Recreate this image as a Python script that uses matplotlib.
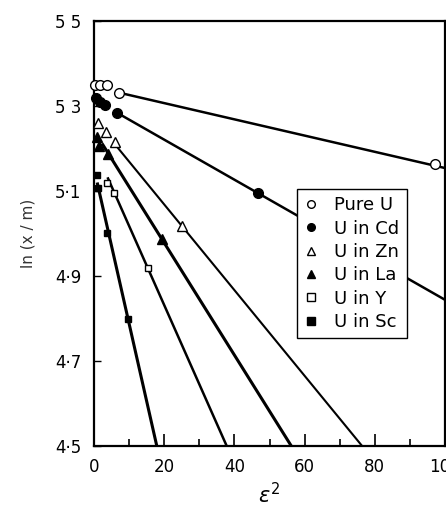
import matplotlib
matplotlib.use("Agg")
import matplotlib.pyplot as plt
import numpy as np

# ---- data ----
labels = ["Pure U", "U in Cd", "U in Zn", "U in La", "U in Y", "U in Sc"]

pure_x = [0.3, 1.8, 3.7, 7.1, 97.2]
pure_y = [5.349, 5.349, 5.349, 5.331, 5.163]
cd_x = [0.5, 1.6, 3.0, 6.5, 46.6]
cd_y = [5.318, 5.310, 5.302, 5.284, 5.095]
zn_x = [1.0, 3.5, 6.0, 25.0]
zn_y = [5.260, 5.240, 5.215, 5.018]
la_x = [0.8, 1.5, 4.0, 19.3]
la_y = [5.228, 5.205, 5.188, 4.987]
y_x = [3.6, 5.8, 15.3]
y_y = [5.120, 5.095, 4.919]
sc_x = [0.8, 1.2, 3.7, 9.7]
sc_y = [5.138, 5.107, 5.001, 4.799]

# fitted straight lines: intercept, slope, start of drawn line
fit_b = [5.345, 5.315, 5.270, 5.242, 5.204, 5.153]
fit_m = [-0.00191, -0.00471, -0.01008, -0.0132, -0.01862, -0.0365]
fit_x0 = [7.0, 6.5, 6.0, 2.5, 4.0, 1.0]

xticks = [0, 20, 40, 60, 80, 100]
xminor = [10, 30, 50, 70, 90]
yticks = [4.5, 4.7, 4.9, 5.1, 5.3, 5.5]
ytick_labels = ["4·5", "4·7", "4·9", "5·1", "5 3", "5 5"]

series_x = [pure_x, cd_x, zn_x, la_x, y_x, sc_x]
series_y = [pure_y, cd_y, zn_y, la_y, y_y, sc_y]
markers = ["o", "o", "^", "^", "s", "s"]
filled = [False, True, False, True, False, True]
msizes = [7, 7, 6.5, 6.5, 4.5, 4.5]
lws = [1.8, 1.8, 1.5, 2.2, 1.8, 2.2]

fig = plt.figure(figsize=(4.46, 5.12), dpi=100)
ax = fig.add_axes([94 / 446, 66 / 512, 351 / 446, 425 / 512])

handles = []
for i in range(6):
    xs = np.array([fit_x0[i], 100.0])
    ax.plot(xs, fit_b[i] + fit_m[i] * xs, color="black", lw=lws[i], zorder=2)
    fc = "black" if filled[i] else "white"
    ax.plot(series_x[i], series_y[i], linestyle="none", marker=markers[i],
            ms=msizes[i], mfc=fc, mec="black", mew=1.0, zorder=3, clip_on=False)
    h, = ax.plot([], [], linestyle="none", marker=markers[i], ms=5.5,
                 mfc=fc, mec="black", mew=1.0)
    handles.append(h)

ax.set_xlim(0, 100)
ax.set_ylim(4.5, 5.5)
ax.set_xticks(xticks)
ax.set_xticks(xminor, minor=True)
ax.set_yticks(yticks)
ax.set_yticklabels(ytick_labels)
ax.tick_params(axis="x", which="major", direction="in", length=9, width=1.2,
               labelsize=12, pad=9)
ax.tick_params(axis="x", which="minor", direction="in", length=5, width=1.2)
ax.tick_params(axis="y", which="major", direction="in", length=5, width=1.0,
               labelsize=12, pad=9)
for s in ax.spines.values():
    s.set_linewidth(1.6)

ax.set_ylabel("ln (x / m)", fontsize=11, labelpad=14, color="#333333")
ax.set_xlabel(r"$\varepsilon^2$", fontsize=15, labelpad=4)

leg = ax.legend(handles, labels, loc="upper left", bbox_to_anchor=(0.577, 0.605),
                frameon=True, fancybox=False, framealpha=1, edgecolor="black",
                fontsize=13, handlelength=0.8, handletextpad=0.9,
                labelspacing=0.3, borderpad=0.4, borderaxespad=0)
leg.get_frame().set_linewidth(1.0)
leg.set_zorder(5)

fig.savefig("out.png", dpi=100)
